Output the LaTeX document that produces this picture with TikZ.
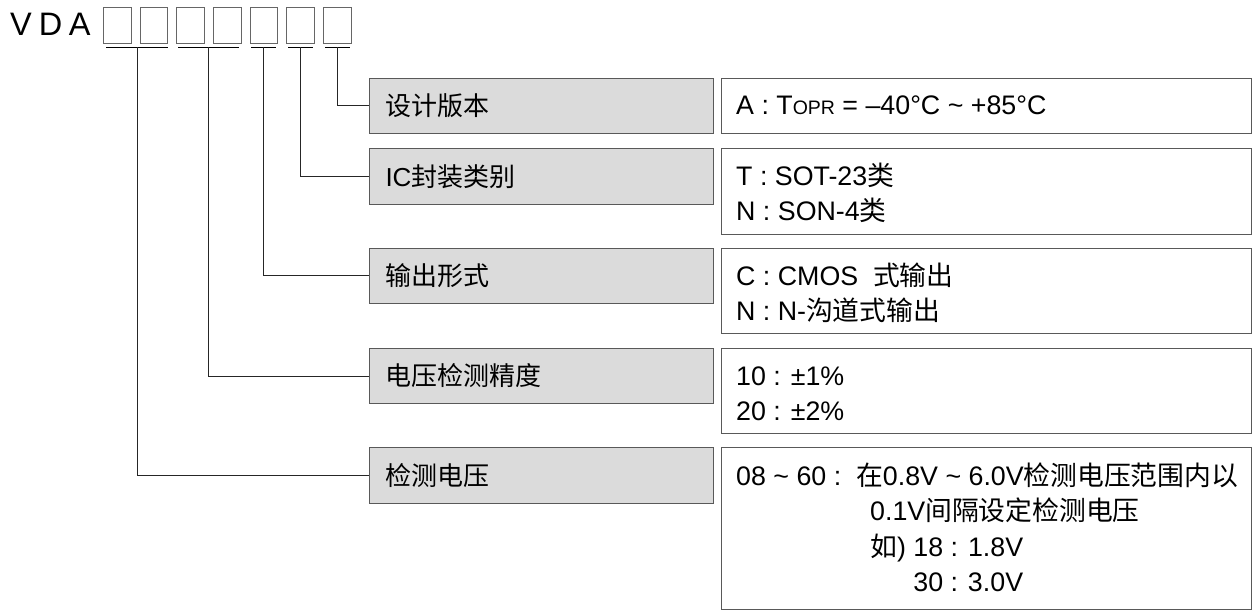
\documentclass[tikz,border=0pt]{standalone}
\usepackage{fontspec}
\setmainfont{Liberation Sans}
\newfontfamily\cjkfont{Noto Sans CJK SC}
\newcommand\zh[1]{{\cjkfont #1}}
\newcommand\tld{\char"007E\relax}
\begin{document}
\begin{tikzpicture}[x=1pt,y=-1pt,
  sq/.style={draw=black!60,line width=1pt,minimum width=27.5pt,minimum height=36pt,inner sep=0pt,anchor=north west},
  greybox/.style={draw=black!65,fill=black!14,line width=1pt,minimum width=344pt,anchor=north west,text width=312pt,align=left,inner xsep=16pt,inner ysep=0pt,font=\fontsize{26}{30}\selectfont},
  rbox/.style={draw=black!65,line width=1pt,minimum width=530pt,anchor=north west,inner sep=0pt},
  rtext/.style={anchor=north west,inner sep=0pt,align=left,font=\fontsize{26.8}{35.5}\selectfont},
  conn/.style={draw=black!85,line width=1pt},
  ul/.style={draw=black,line width=1pt}]
\useasboundingbox (0,0) rectangle (1255,612);

% title
\node[anchor=base west,inner sep=0pt,font=\fontsize{32.5}{32.5}\selectfont] (vda) at (10,36) {V\kern7pt D\kern6.5pt A};
\foreach \i in {1,...,7} {
  \node[sq] (s\i) at ({103+36.67*(\i-1)},7) {};
}

% underlines
\coordinate (u1) at (137,47.5);
\coordinate (u2) at (208.5,47.5);
\coordinate (u3) at (263.5,47.5);
\coordinate (u4) at (300.5,47.5);
\coordinate (u5) at (337.5,47.5);
\draw[ul] (106,47.5) -- (168,47.5);
\draw[ul] (178,47.5) -- (239,47.5);
\draw[ul] (251,47.5) -- (276,47.5);
\draw[ul] (288,47.5) -- (313,47.5);
\draw[ul] (325,47.5) -- (350,47.5);

% grey boxes
\node[greybox,minimum height=55pt] (g1) at (369,78) {\zh{设计版本}};
\node[greybox,minimum height=56pt] (g2) at (369,148) {IC\zh{封装类别}};
\node[greybox,minimum height=55pt] (g3) at (369,248) {\zh{输出形式}};
\node[greybox,minimum height=55pt] (g4) at (369,348) {\zh{电压检测精度}};
\node[greybox,minimum height=56pt] (g5) at (369,447) {\zh{检测电压}};

% right boxes
\node[rbox,minimum height=55pt] (r1) at (721,78) {};
\node[rbox,minimum height=86pt] (r2) at (721,148) {};
\node[rbox,minimum height=85pt] (r3) at (721,248) {};
\node[rbox,minimum height=85pt] (r4) at (721,348) {};
\node[rbox,minimum height=162pt] (r5) at (721,447) {};

\node[rtext] (t1) at (736,78) {\rule{0pt}{36.5pt}A : T{\fontsize{19.5}{19.5}\selectfont OPR} = –40°C \tld\ +85°C};
\node[rtext] (t2) at (736,148) {\rule{0pt}{37pt}T : SOT-23\zh{类}\\N : SON-4\zh{类}};
\node[rtext] (t3) at (736,248) {\rule{0pt}{37pt}C : CMOS\ \ \zh{式输出}\\N : N-\zh{沟道式输出}};
\node[rtext] (t4) at (736,348) {\rule{0pt}{37pt}10 : ±1\%\\20 : ±2\%};
\node[rtext] (t5) at (736,447) {\rule{0pt}{38pt}08 \tld\ 60 :\ \ \zh{在}0.8V \tld\ 6.0V\zh{检测电压范围内以}\\
  \hspace*{134pt}0.1V\zh{间隔设定检测电压}\\
  \hspace*{134pt}\zh{如}) 18 : 1.8V\\
  \hspace*{134pt}\phantom{\zh{如}) }30 : 3.0V};

% connectors
\draw[conn] (u5) |- (g1.west);
\draw[conn] (u4) |- (g2.west);
\draw[conn] (u3) |- (g3.west);
\draw[conn] (u2) |- (g4.west);
\draw[conn] (u1) |- (g5.west);
\end{tikzpicture}
\end{document}
